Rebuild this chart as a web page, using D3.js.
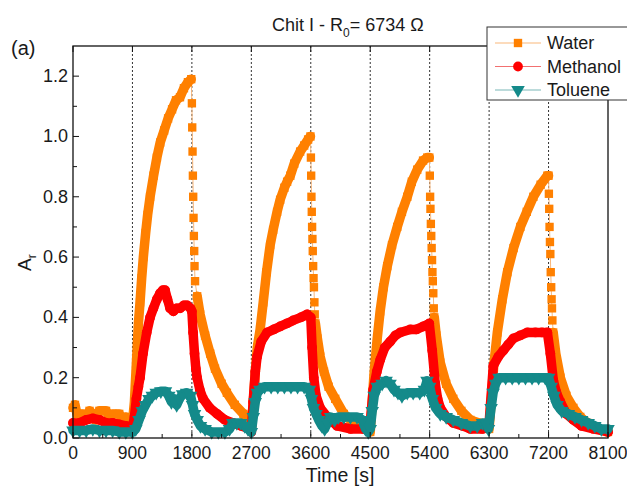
<!DOCTYPE html>
<html>
<head>
<meta charset="utf-8">
<title>chit</title>
<script src="https://d3js.org/d3.v7.min.js"></script>
<style>
  body { margin: 0; background: #fff; }
  text { font-family: "Liberation Sans", Arial, sans-serif; fill: #1a1a1a; }
</style>
</head>
<body>
<svg width="627" height="493" id="mainsvg"></svg>
<script>
  // axis ticks
  const xTicks = [0, 900, 1800, 2700, 3600, 4500, 5400, 6300, 7200, 8100];
  const yTicks = [0, 0.2, 0.4, 0.6, 0.8, 1.0, 1.2];
  const switchTimes = [900, 1800, 2700, 3600, 4500, 5400, 6300, 7200];
  const seriesNames = ['Water', 'Methanol', 'Toluene'];

  // [time s, A_r]  dense part of each curve
  const water = [
    [0,0.10],[30,0.11],[60,0.08],[150,0.08],[200,0.07],[250,0.09],[300,0.08],[350,0.06],[400,0.09],
    [500,0.09],[550,0.07],[600,0.08],[700,0.08],[750,0.06],[800,0.07],[850,0.05],[900,0.05],
    [930,0.12],[960,0.25],[990,0.38],[1015,0.45],[1040,0.53],[1065,0.60],[1100,0.68],[1130,0.74],
    [1167,0.80],[1220,0.87],[1270,0.93],[1320,0.98],[1380,1.02],[1440,1.06],[1500,1.09],[1560,1.12],
    [1620,1.13],[1680,1.16],[1740,1.18],[1790,1.19],
    [1880,0.47],[1924,0.41],[2000,0.34],[2077,0.28],[2150,0.23],[2250,0.18],[2330,0.15],[2450,0.11],
    [2580,0.08],[2650,0.05],[2700,0.03],
    [2730,0.12],[2760,0.22],[2790,0.30],[2833,0.36],[2880,0.45],[2930,0.55],[2985,0.64],[3030,0.69],
    [3090,0.75],[3136,0.79],[3200,0.83],[3242,0.85],[3290,0.87],[3350,0.91],[3439,0.95],[3500,0.97],
    [3560,0.99],[3595,1.00],
    [3670,0.38],[3700,0.33],[3742,0.27],[3800,0.22],[3870,0.17],[3970,0.13],[4100,0.08],[4250,0.05],
    [4424,0.03],[4500,0.02],
    [4530,0.12],[4560,0.22],[4606,0.33],[4650,0.42],[4700,0.50],[4758,0.57],[4830,0.64],[4909,0.70],
    [4980,0.75],[5061,0.80],[5130,0.85],[5212,0.89],[5300,0.92],[5364,0.93],[5395,0.93],
    [5470,0.40],[5500,0.34],[5560,0.25],[5650,0.18],[5758,0.13],[5880,0.09],[6015,0.06],[6150,0.05],
    [6273,0.04],[6300,0.03],
    [6330,0.12],[6370,0.24],[6424,0.35],[6500,0.46],[6576,0.55],[6670,0.63],[6773,0.70],[6870,0.75],
    [6970,0.80],[7080,0.84],[7182,0.87],[7200,0.87],
    [7270,0.35],[7310,0.28],[7379,0.20],[7470,0.14],[7576,0.10],[7680,0.07],[7788,0.05],[7950,0.03],
    [8100,0.02]
  ];
  // sparse points right after the water is switched off
  const waterDrop = [
    [1800,1.11],[1805,1.03],[1810,0.95],[1815,0.87],[1820,0.80],[1825,0.73],[1830,0.67],[1835,0.62],
    [1840,0.57],[1848,0.52],
    [3602,0.93],[3606,0.87],[3610,0.80],[3615,0.75],[3620,0.70],[3625,0.66],[3630,0.62],[3636,0.57],
    [3642,0.53],[3648,0.50],[3655,0.45],[3660,0.41],
    [5402,0.87],[5407,0.80],[5412,0.76],[5418,0.71],[5424,0.67],[5430,0.63],[5436,0.59],[5442,0.55],
    [5448,0.52],[5455,0.48],[5462,0.43],
    [7205,0.81],[7210,0.76],[7215,0.70],[7221,0.65],[7227,0.61],[7233,0.55],[7240,0.50],[7246,0.46],
    [7252,0.43],[7258,0.39]
  ];
  const methanol = [
    [0,0.05],[100,0.05],[200,0.06],[300,0.065],[400,0.06],[500,0.05],[600,0.05],[700,0.045],[800,0.04],[900,0.035],
    [930,0.07],[960,0.13],[990,0.17],[1015,0.20],[1060,0.28],[1116,0.35],[1167,0.40],[1217,0.43],
    [1270,0.46],[1318,0.48],[1360,0.49],[1394,0.49],[1430,0.46],[1470,0.43],[1520,0.42],[1570,0.43],
    [1621,0.43],[1680,0.44],[1727,0.44],[1780,0.43],[1800,0.42],
    [1818,0.35],[1840,0.28],[1860,0.23],[1879,0.20],[1920,0.16],[1970,0.13],[2070,0.10],[2182,0.08],
    [2300,0.06],[2424,0.05],[2550,0.04],[2682,0.03],[2700,0.02],
    [2727,0.12],[2760,0.22],[2788,0.27],[2850,0.32],[2939,0.35],[3040,0.36],[3136,0.37],[3240,0.38],
    [3333,0.39],[3450,0.40],[3545,0.41],[3600,0.40],
    [3620,0.30],[3645,0.20],[3680,0.14],[3742,0.10],[3850,0.07],[4000,0.04],[4200,0.03],[4400,0.03],[4500,0.05],
    [4545,0.16],[4600,0.22],[4652,0.26],[4720,0.30],[4803,0.32],[4880,0.34],[4955,0.35],[5106,0.36],
    [5200,0.36],[5303,0.37],[5394,0.38],
    [5439,0.29],[5485,0.18],[5520,0.13],[5561,0.10],[5650,0.07],[5758,0.05],[5900,0.04],[6015,0.03],
    [6200,0.03],[6300,0.05],
    [6364,0.24],[6440,0.27],[6515,0.29],[6590,0.31],[6667,0.33],[6770,0.34],[6879,0.35],[7000,0.35],
    [7100,0.35],[7182,0.35],
    [7227,0.28],[7273,0.19],[7320,0.15],[7379,0.12],[7470,0.08],[7576,0.06],[7700,0.04],[7879,0.03],[8100,0.02]
  ];
  const toluene = [
    [0,0.025],[100,0.025],[200,0.025],[300,0.03],[400,0.025],[500,0.025],[600,0.025],[700,0.02],[800,0.02],[900,0.02],
    [950,0.03],[1000,0.06],[1050,0.09],[1100,0.11],[1150,0.13],[1200,0.14],[1260,0.15],[1330,0.155],
    [1400,0.155],[1450,0.14],[1490,0.12],[1530,0.13],[1570,0.11],[1610,0.13],[1660,0.145],[1720,0.15],
    [1780,0.14],[1810,0.11],[1840,0.08],[1880,0.06],[1930,0.04],[2000,0.03],[2100,0.02],[2200,0.02],
    [2300,0.02],[2370,0.03],[2420,0.05],[2480,0.05],[2540,0.05],[2600,0.04],[2650,0.03],[2700,0.02],
    [2730,0.07],[2760,0.12],[2790,0.15],[2830,0.16],[2900,0.17],[3000,0.17],[3100,0.17],[3200,0.17],
    [3300,0.17],[3400,0.17],[3500,0.17],[3580,0.16],[3610,0.13],[3640,0.10],[3680,0.08],[3720,0.06],
    [3770,0.04],[3810,0.03],[3850,0.05],[3900,0.07],[3960,0.06],[4020,0.07],[4100,0.07],[4200,0.07],
    [4300,0.07],[4380,0.06],[4430,0.03],[4470,0.02],[4500,0.03],
    [4530,0.09],[4560,0.14],[4606,0.17],[4680,0.18],[4740,0.19],[4800,0.18],[4860,0.16],[4920,0.15],
    [4980,0.14],[5061,0.15],[5150,0.15],[5250,0.15],[5320,0.16],[5360,0.19],[5400,0.17],[5440,0.13],
    [5490,0.10],[5560,0.08],[5650,0.07],[5758,0.06],[5880,0.05],[6015,0.04],[6120,0.04],[6200,0.05],
    [6250,0.05],[6290,0.03],
    [6330,0.10],[6360,0.15],[6400,0.18],[6450,0.20],[6550,0.20],[6650,0.20],[6750,0.20],[6850,0.20],
    [6950,0.20],[7050,0.20],[7150,0.20],[7200,0.20],[7240,0.17],[7280,0.14],[7330,0.11],[7400,0.09],
    [7500,0.08],[7600,0.07],[7700,0.06],[7800,0.05],[7900,0.04],[8000,0.03],[8100,0.03]
  ];

  let svg = d3.select('#mainsvg');
  const pLeft = 73, pRight = 608, pTop = 46, pBottom = 438;

  let x = d3.scaleLinear().domain([0, 8100]).range([pLeft, pRight]);
  let y = d3.scaleLinear().domain([0, 1.3]).range([pBottom, pTop]);

  svg.append('rect').attr('width', 627).attr('height', 493).attr('fill', '#fff');

  // dashed switch lines
  svg.selectAll('line.sw').data(switchTimes).enter().append('line')
    .attr('class', 'sw')
    .attr('x1', d => x(d)).attr('x2', d => x(d))
    .attr('y1', pTop).attr('y2', pBottom)
    .attr('stroke', '#333').attr('stroke-width', 1)
    .attr('stroke-dasharray', '2,2');

  const styles = [
    {data: water, drop: waterDrop, color: '#ff8000', light: '#f9b77a', sym: d3.symbolSquare, size: 70, rot: 0},
    {data: methanol, drop: [], color: '#ff0000', light: '#f27070', sym: d3.symbolCircle, size: 75, rot: 0},
    {data: toluene, drop: [], color: '#148a8a', light: '#7ab8b8', sym: d3.symbolTriangle, size: 80, rot: 180}
  ];

  let line = d3.line().x(d => x(d[0])).y(d => y(d[1]));
  let plot = svg.append('g');

  styles.forEach(s => {
    let all = s.data.concat(s.drop).sort((a, b) => a[0] - b[0]);
    // thin connecting line
    plot.append('path').attr('d', line(all))
      .attr('fill', 'none').attr('stroke', s.light).attr('stroke-width', 1);
    // dense band: split where sparse drop points sit
    let segs = [], cur = [];
    s.data.forEach((p, i) => {
      if (i > 0 && s.drop.some(q => q[0] > s.data[i - 1][0] && q[0] < p[0])) {
        segs.push(cur); cur = [];
      }
      cur.push(p);
    });
    segs.push(cur);
    segs.forEach(seg => {
      plot.append('path').attr('d', line(seg))
        .attr('fill', 'none').attr('stroke', s.color)
        .attr('stroke-width', 9.5).attr('stroke-linejoin', 'round').attr('stroke-linecap', 'round');
    });
    let sym = d3.symbol().type(s.sym).size(s.size);
    plot.selectAll(null).data(all).enter().append('path')
      .attr('d', sym)
      .attr('transform', d => `translate(${x(d[0])},${y(d[1])}) rotate(${s.rot})`)
      .attr('fill', s.color);
  });

  // frame
  svg.append('rect').attr('x', pLeft).attr('y', pTop)
    .attr('width', pRight - pLeft).attr('height', pBottom - pTop)
    .attr('fill', 'none').attr('stroke', '#111').attr('stroke-width', 1.3);

  // ticks (inward)
  let xMinor = d3.range(450, 8100, 900);
  svg.selectAll('line.xt').data(xTicks.concat(xMinor)).enter().append('line')
    .attr('class', 'xt')
    .attr('x1', d => x(d)).attr('x2', d => x(d))
    .attr('y1', pBottom).attr('y2', d => xTicks.includes(d) ? pBottom - 6 : pBottom - 4)
    .attr('stroke', '#111');
  svg.selectAll('line.xtt').data(xTicks).enter().append('line')
    .attr('class', 'xtt')
    .attr('x1', d => x(d)).attr('x2', d => x(d))
    .attr('y1', pTop).attr('y2', pTop + 6)
    .attr('stroke', '#111');
  let yMinor = d3.range(0.1, 1.3, 0.2);
  svg.selectAll('line.yt').data(yTicks.concat(yMinor)).enter().append('line')
    .attr('class', 'yt')
    .attr('x1', pLeft).attr('x2', d => yTicks.includes(d) ? pLeft + 6 : pLeft + 4)
    .attr('y1', d => y(d)).attr('y2', d => y(d))
    .attr('stroke', '#111');

  svg.selectAll('text.xl').data(xTicks).enter().append('text')
    .attr('class', 'xl')
    .attr('x', d => x(d)).attr('y', 459)
    .attr('text-anchor', 'middle').attr('font-size', 17.5)
    .text(d => d);
  svg.selectAll('text.yl').data(yTicks).enter().append('text')
    .attr('class', 'yl')
    .attr('x', pLeft - 5).attr('y', d => y(d) + 6)
    .attr('text-anchor', 'end').attr('font-size', 18)
    .text(d3.format('.1f'));

  // titles
  let t = svg.append('text').attr('x', 272).attr('y', 31).attr('font-size', 18);
  t.append('tspan').text('Chit I - R');
  t.append('tspan').attr('font-size', 12).attr('dy', 6).text('0');
  t.append('tspan').attr('dy', -6).text('= 6734 \u03A9');

  svg.append('text').attr('x', 11).attr('y', 55).attr('font-size', 20).text('(a)');

  svg.append('text').attr('x', 340).attr('y', 482)
    .attr('text-anchor', 'middle').attr('font-size', 19.5).text('Time [s]');

  let yl = svg.append('text').attr('transform', 'translate(31,271) rotate(-90)')
    .attr('font-size', 19);
  yl.append('tspan').text('A');
  yl.append('tspan').attr('font-size', 12).attr('dy', 5).text('r');

  // legend
  let lg = svg.append('g');
  lg.append('rect').attr('x', 487).attr('y', 27).attr('width', 160).attr('height', 73)
    .attr('fill', '#fff').attr('stroke', '#333').attr('stroke-width', 1);
  seriesNames.forEach((name, i) => {
    let s = styles[i], cy = 43 + i * 23.5;
    lg.append('line').attr('x1', 495).attr('x2', 541).attr('y1', cy).attr('y2', cy)
      .attr('stroke', s.light).attr('stroke-width', 1.2);
    lg.append('path').attr('d', d3.symbol().type(s.sym).size(s.size)())
      .attr('transform', `translate(518,${cy}) rotate(${s.rot})`)
      .attr('fill', s.color);
    lg.append('text').attr('x', 547).attr('y', cy + 6).attr('font-size', 18).text(name);
  });
</script>
</body>
</html>
